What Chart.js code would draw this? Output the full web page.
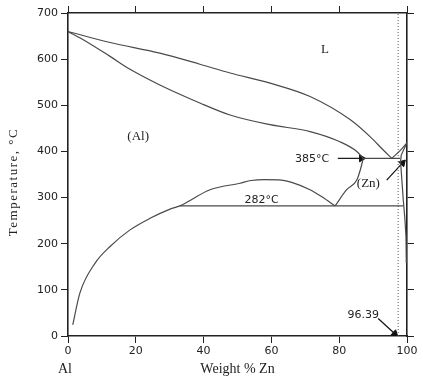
<!DOCTYPE html>
<html>
<head>
<meta charset="utf-8">
<script src="https://cdn.jsdelivr.net/npm/chart.js@4.4.1/dist/chart.umd.min.js"></script>
<style>
  html, body { margin: 0; padding: 0; background: #fff; }
  canvas { display: block; }
</style>
</head>
<body>
<canvas id="phase" width="423" height="384"></canvas>
<script>
// ─── DATA (wt% Zn, temperature °C) ──────────────────────────────
const xTicks = [0, 20, 40, 60, 80, 100];
const tTicks = [0, 100, 200, 300, 400, 500, 600, 700];

const liquidusAlX = [0, 12.4, 27.1, 38.9, 47.8, 59.6, 71.4, 83.2, 89.1, 93, 95.5];
const liquidusAlT = [660, 636, 613, 589, 570, 548, 519, 469, 432, 403, 385];

const solidusAlX = [0, 5, 12.4, 18.3, 27.1, 38.9, 47.8, 59.6, 71.4, 80.2, 85.2, 87.1];
const solidusAlT = [660, 640, 606, 578, 544, 505, 479, 458, 443, 421, 400, 385];

const solvusAlX = [1.4, 3.5, 8, 12.4, 18.3, 24.2, 30.1, 33, 41.9, 50.7, 54, 58, 63, 66, 71.4, 75, 78.8];
const solvusAlT = [24, 93, 158, 194, 230, 255, 275, 282, 317, 331, 337, 339, 338, 333, 317, 301, 282];

const gapRightX = [78.8, 82.2, 85.2, 86.3, 87.1];
const gapRightT = [282, 317, 338, 362, 385];

const liquidusZnX = [95.5, 98.4, 100];
const liquidusZnT = [385, 405, 419];

const solidusZnX = [100, 98.3, 98.1, 98.9, 99.4, 99.7, 99.8];
const solidusZnT = [419, 392, 378, 295, 252, 215, 158];

const eutecticX = [87.1, 98];
const eutecticT = [385, 385];
const monotectoidX = [33, 98.9];
const monotectoidT = [282, 282];

const dottedX = [97.4, 97.4];
const dottedT = [0, 700];

// arrows: tail -> tip
const arrow385X = [79.6, 86.6];
const arrow385T = [385, 385];
const arrowZnX = [94, 98.7];
const arrowZnT = [338, 375];
const arrow96X = [91.5, 96.4];
const arrow96T = [38, 5];

const serifLabels = ['L', '(Al)', '(Zn)'];
const serifLabelX = [75.8, 20.7, 88.6];
const serifLabelT = [620, 432, 331];

const sansLabels = ['385°C', '282°C', '96.39'];
const sansLabelX = [72, 57.1, 87.1];
const sansLabelT = [384, 295, 45];

// ─── HELPERS ─────────────────────────────────────────────────────
const INK = '#222';
const CURVE = '#4a4a4a';

const pts = (xs, ts) => xs.map((x, i) => ({ x, y: ts[i] }));

const curve = (xs, ts, extra = {}) => ({
  data: pts(xs, ts),
  showLine: true,
  borderColor: CURVE,
  borderWidth: 1.2,
  pointRadius: 0,
  fill: false,
  ...extra,
});

// smooth curves whose x only grows
const smooth = (xs, ts) => curve(xs, ts, { cubicInterpolationMode: 'monotone' });

const head = (xs, ts, rot) => ({
  data: [{ x: xs[1], y: ts[1] }],
  showLine: false,
  pointStyle: 'triangle',
  pointRadius: 4,
  rotation: rot,
  backgroundColor: '#111',
  borderColor: '#111',
  borderWidth: 1,
});

const fixSize = (prop, val) => scale => { scale[prop] = val; };
const setTicks = vals => scale => { scale.ticks = vals.map(v => ({ value: v })); };

// ─── TEXT PLUGIN ─────────────────────────────────────────────────
const textPlugin = {
  id: 'phaseText',
  afterDraw(chart) {
    const { ctx } = chart;
    const x = chart.scales.x, y = chart.scales.y;
    ctx.save();
    ctx.fillStyle = INK;
    ctx.textAlign = 'center';
    ctx.textBaseline = 'middle';

    ctx.font = '13px "Liberation Serif", "Times New Roman", serif';
    serifLabels.forEach((t, i) =>
      ctx.fillText(t, x.getPixelForValue(serifLabelX[i]), y.getPixelForValue(serifLabelT[i])));

    ctx.font = '11px "DejaVu Sans", sans-serif';
    sansLabels.forEach((t, i) =>
      ctx.fillText(t, x.getPixelForValue(sansLabelX[i]), y.getPixelForValue(sansLabelT[i])));

    // axis titles
    ctx.font = '14px "Liberation Serif", "Times New Roman", serif';
    ctx.fillText('Al', x.left - 3, 369);
    ctx.fillText('Weight % Zn', (x.left + x.right) / 2, 369);

    ctx.translate(14, 182);
    ctx.rotate(-Math.PI / 2);
    ctx.font = '13px "Liberation Serif", "Times New Roman", serif';
    ctx.letterSpacing = '1.5px';
    ctx.fillText('Temperature, °C', 0, 0);
    ctx.restore();
  },
};

// ─── CHART ───────────────────────────────────────────────────────
const axisBase = {
  type: 'linear',
  grid: { drawOnChartArea: false, drawTicks: true, tickLength: 7, color: INK, lineWidth: 1 },
  border: { display: true, color: INK, width: 1.6 },
};

new Chart(document.getElementById('phase'), {
  type: 'scatter',
  data: {
    datasets: [
      smooth(liquidusAlX, liquidusAlT),
      smooth(solidusAlX, solidusAlT),
      smooth(solvusAlX, solvusAlT),
      smooth(gapRightX, gapRightT),
      smooth(liquidusZnX, liquidusZnT),
      curve(solidusZnX, solidusZnT),
      curve(eutecticX, eutecticT),
      curve(monotectoidX, monotectoidT),
      curve(dottedX, dottedT, { borderColor: '#555', borderWidth: 1, borderDash: [1, 2] }),
      curve(arrow385X, arrow385T, { borderColor: '#111', borderWidth: 1.2 }),
      head(arrow385X, arrow385T, 90),
      curve(arrowZnX, arrowZnT, { borderColor: '#111', borderWidth: 1.2 }),
      head(arrowZnX, arrowZnT, 43),
      curve(arrow96X, arrow96T, { borderColor: '#111', borderWidth: 1.2 }),
      head(arrow96X, arrow96T, 132),
    ],
  },
  options: {
    responsive: false,
    animation: false,
    layout: { padding: 0 },
    plugins: { legend: { display: false }, tooltip: { enabled: false } },
    scales: {
      x: {
        ...axisBase,
        position: 'bottom',
        min: 0, max: 100,
        afterBuildTicks: setTicks(xTicks),
        ticks: { color: INK, font: { family: '"DejaVu Sans", sans-serif', size: 11 }, padding: 2, maxRotation: 0 },
        afterFit: fixSize('height', 48),
      },
      x2: {
        ...axisBase,
        position: 'top',
        min: 0, max: 100,
        afterBuildTicks: setTicks(xTicks),
        ticks: { callback: () => '' },
        afterFit: fixSize('height', 13),
      },
      y: {
        ...axisBase,
        position: 'left',
        min: 0, max: 700,
        afterBuildTicks: setTicks(tTicks),
        ticks: { color: INK, font: { family: '"DejaVu Sans", sans-serif', size: 11 }, padding: 3 },
        afterFit: fixSize('width', 68),
      },
      y2: {
        ...axisBase,
        position: 'right',
        min: 0, max: 700,
        afterBuildTicks: setTicks(tTicks),
        ticks: { callback: () => '' },
        afterFit: fixSize('width', 16),
      },
    },
  },
  plugins: [textPlugin],
});
</script>
</body>
</html>
